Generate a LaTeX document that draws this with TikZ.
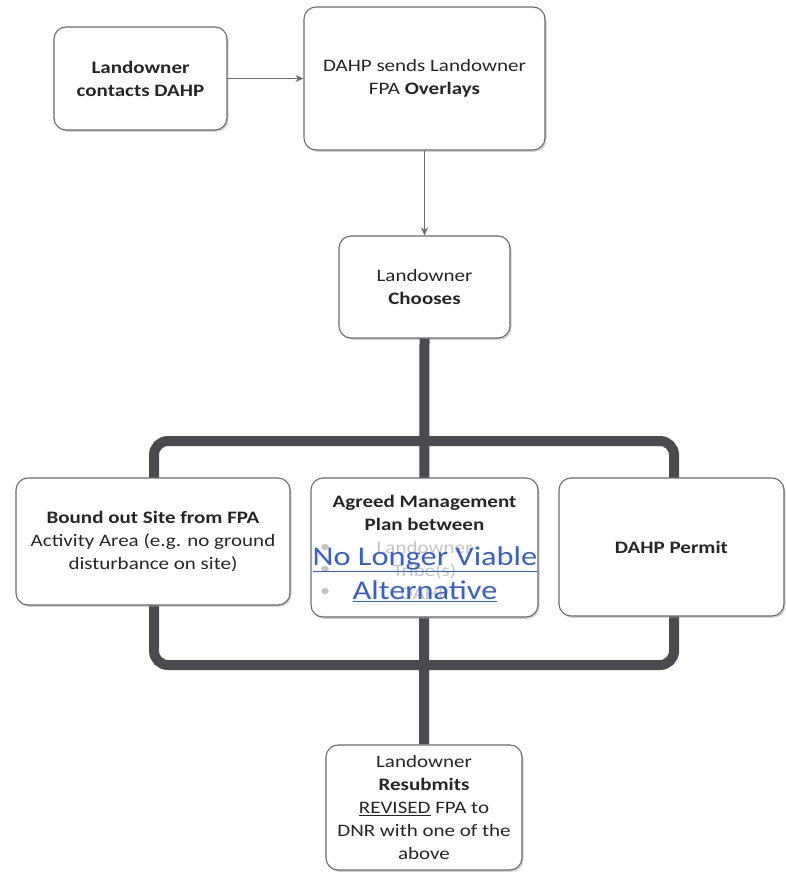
\documentclass[tikz,border=0pt]{standalone}
\usepackage{fontspec}
\setmainfont{Carlito}[FakeStretch=1.2]
\usetikzlibrary{arrows.meta,shadows}
\definecolor{edgegray}{HTML}{6C6C6C}
\definecolor{bargray}{HTML}{4A4A4F}
\definecolor{txt}{HTML}{262626}
\definecolor{faint}{HTML}{C4C4C4}
\definecolor{linkblue}{HTML}{3A60C8}
\begin{document}
\begin{tikzpicture}[x=1pt,y=-1pt,
  box/.style={draw=edgegray, line width=1.1pt, rounded corners=12pt, fill=white,
    align=center, inner sep=0pt, text=txt,
    font=\fontsize{17.5}{23}\selectfont,
    drop shadow={shadow xshift=1.5pt, shadow yshift=-1.8pt, fill=black!40, opacity=0.45}},
  thin arrow/.style={draw=edgegray, line width=1.1pt, -{Stealth[length=8pt,width=7pt]}},
  bar/.style={draw=bargray, line width=10pt},
  faintlabel/.style={text=faint, font=\fontsize{17.5}{23}\selectfont, inner sep=0pt, align=center},
  overlay text/.style={text=linkblue, font=\fontsize{27}{34}\selectfont, align=center, inner sep=0pt}
]
\useasboundingbox (0,0) rectangle (786,872);
\clip (0,0) rectangle (786,872);

% frame and centre bar (behind the boxes)
\coordinate (ftl) at (154,441);
\coordinate (fbr) at (674,665);
\draw[bar, rounded corners=14pt] (ftl) rectangle (fbr);

% boxes
\node[box, minimum width=173pt, minimum height=103pt] (contact) at (140.5,78.5)
  {\textbf{Landowner}\\\textbf{contacts DAHP}};
\node[box, minimum width=241pt, minimum height=143pt] (sends) at (424.5,78.5)
  {DAHP sends Landowner\\FPA \textbf{Overlays}};
\node[box, minimum width=171pt, minimum height=102pt] (chooses) at (424.5,287)
  {Landowner\\\textbf{Chooses}};
\node[box, minimum width=196pt, minimum height=125pt] (resubmit) at (424,807.5)
  {Landowner\\\textbf{Resubmits}\\\underline{REVISED} FPA to\\DNR with one of the\\above};

\draw[bar] (chooses.south) -- (resubmit.north);

\node[box, minimum width=274pt, minimum height=127pt] (bound) at (153,541.5)
  {\textbf{Bound out Site from FPA}\\Activity Area (e.g. no ground\\disturbance on site)};
\node[box, minimum width=227pt, minimum height=139pt] (agreed) at (424.5,547.5)
  {\textbf{Agreed Management}\\\textbf{Plan between}\\\textcolor{faint}{Landowner}\\\textcolor{faint}{Tribe(s)}\\\textcolor{faint}{DAHP}};
\node[box, minimum width=225pt, minimum height=138pt] (permit) at (671.5,547)
  {\textbf{DAHP Permit}};

% faint bullets
\node[faintlabel] (b1) at (325,548) {•};
\node[faintlabel] (b2) at (325,570) {•};
\node[faintlabel] (b3) at (325,592) {•};

% overlay
\node[overlay text] (viable) at (425,574)
  {\underline{No Longer Viable}\\\underline{Alternative}};

% thin arrows
\draw[thin arrow] (contact.east) -- (sends.west);
\draw[thin arrow] (sends.south) -- (chooses.north);
\end{tikzpicture}
\end{document}
